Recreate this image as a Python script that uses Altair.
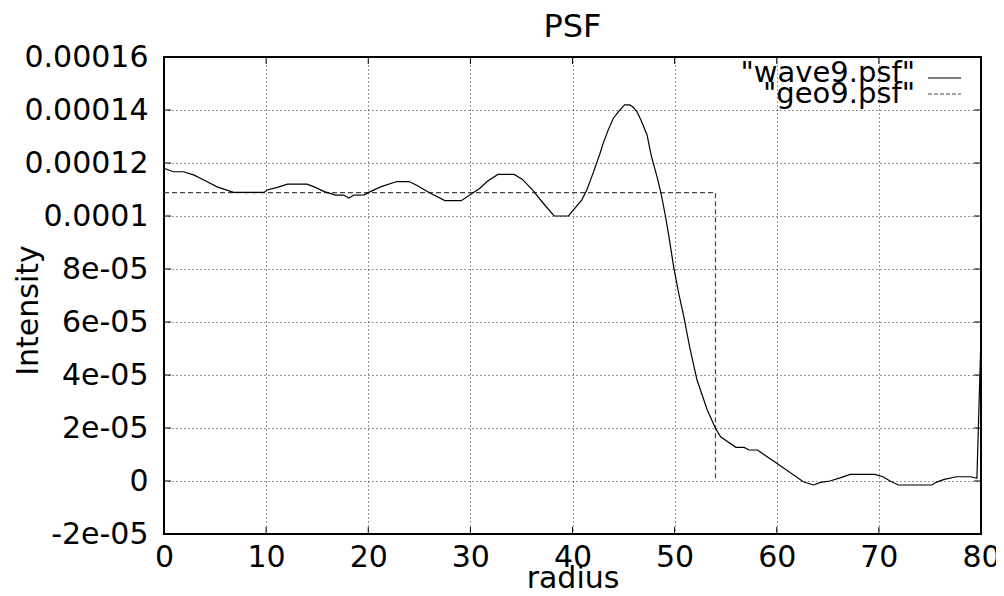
import altair as alt
import pandas as pd

# ---- data ----
wave_x = [0, 0.9, 1.9, 2.9, 3.9, 5.2, 6.8, 9.8, 10.1, 11.1, 12.1, 14.0, 14.7, 15.7,
          16.8, 17.6, 18.1, 18.6, 19.6, 20.2, 21.2, 22.8, 24.0, 24.7, 26.0, 27.5,
          29.1, 30.9, 31.7, 32.7, 34.3, 35.1, 36.1, 37.1, 38.2, 39.6, 40.9, 41.4,
          42.0, 42.7, 43.0, 43.5, 44.0, 44.5, 45.1, 45.6, 45.9, 46.3, 46.7, 47.3,
          47.7, 48.3, 48.7, 49.1, 49.5, 49.9, 50.4, 50.9, 51.5, 52.2, 53.2, 54.0,
          54.5, 56.0, 56.8, 57.3, 58.1, 60.0, 62.6, 63.6, 64.3, 65.2, 66.2, 67.2,
          69.6, 70.4, 71.1, 71.9, 75.2, 75.6, 76.4, 77.6, 79.0, 79.6, 80.0]
wave_y = [11.8e-5, 11.67e-5, 11.67e-5, 11.55e-5, 11.36e-5, 11.1e-5, 10.89e-5, 10.89e-5,
          10.98e-5, 11.08e-5, 11.2e-5, 11.2e-5, 11.1e-5, 10.92e-5, 10.79e-5, 10.79e-5,
          10.68e-5, 10.79e-5, 10.8e-5, 10.92e-5, 11.1e-5, 11.3e-5, 11.3e-5, 11.17e-5,
          10.88e-5, 10.58e-5, 10.58e-5, 11.04e-5, 11.32e-5, 11.57e-5, 11.57e-5, 11.38e-5,
          10.98e-5, 10.5e-5, 10.0e-5, 10.0e-5, 10.6e-5, 10.98e-5, 11.6e-5, 12.37e-5,
          12.74e-5, 13.25e-5, 13.69e-5, 13.94e-5, 14.19e-5, 14.19e-5, 14.12e-5, 13.94e-5,
          13.62e-5, 13.06e-5, 12.3e-5, 11.45e-5, 10.8e-5, 10.0e-5, 9.09e-5, 8.09e-5,
          7.08e-5, 6.2e-5, 5.0e-5, 3.8e-5, 2.68e-5, 1.99e-5, 1.67e-5, 1.27e-5, 1.27e-5,
          1.17e-5, 1.17e-5, 0.67e-5, -0.03e-5, -0.15e-5, -0.05e-5, 0.0, 0.12e-5, 0.25e-5,
          0.25e-5, 0.16e-5, 0.0, -0.15e-5, -0.15e-5, -0.05e-5, 0.06e-5, 0.16e-5, 0.16e-5,
          0.1e-5, 5.45e-5]

geo_x = [0, 54, 54]
geo_y = [1.088e-4, 1.088e-4, 0.0]

x_ticks = [0, 10, 20, 30, 40, 50, 60, 70, 80]
y_ticks = [-2e-5, 0.0, 2e-5, 4e-5, 6e-5, 8e-5, 1e-4, 1.2e-4, 1.4e-4, 1.6e-4]
y_tick_labels = ["-2e-05", "0", "2e-05", "4e-05", "6e-05", "8e-05",
                 "0.0001", "0.00012", "0.00014", "0.00016"]
series_labels = ['"wave9.psf"', '"geo9.psf"']
chart_title = "PSF"
x_title = "radius"
y_title = "Intensity"

FONT = "DejaVu Sans"

wave_df = pd.DataFrame({"x": wave_x, "y": wave_y})
geo_df = pd.DataFrame({"x": geo_x, "y": geo_y})

xs = alt.Scale(domain=[x_ticks[0], x_ticks[-1]], nice=False, zero=False)
ys = alt.Scale(domain=[y_ticks[0], y_ticks[-1]], nice=False, zero=False)

label_expr = "[" + ",".join("'%s'" % s for s in y_tick_labels) + "][round(datum.value/0.00002)+1]"

x_axis = alt.Axis(values=x_ticks, title=x_title, grid=True, ticks=False, tickSize=0,
                  labelPadding=8, labelFlush=False, labelFontSize=30, labelFont=FONT,
                  labelColor="black", titleFontSize=30, titleFont=FONT, titleColor="black",
                  titleFontWeight="normal", titleBaseline="alphabetic", titleY=53,
                  domain=False, gridDash=[1, 3], gridColor="#000", gridOpacity=0.8)
y_axis = alt.Axis(values=y_ticks, title=y_title, grid=True, ticks=False, tickSize=0,
                  labelPadding=16, labelFontSize=30, labelFont=FONT, labelColor="black",
                  labelExpr=label_expr, titleFontSize=30, titleFont=FONT,
                  titleColor="black", titleFontWeight="normal", titleBaseline="alphabetic",
                  titleX=-127, titleY=253, titleAngle=270, titleAlign="center",
                  domain=False, gridDash=[1, 3], gridColor="#000", gridOpacity=0.8)

wave = alt.Chart(wave_df).mark_line(color="black", strokeWidth=1.2).encode(
    x=alt.X("x:Q", scale=xs, axis=x_axis),
    y=alt.Y("y:Q", scale=ys, axis=y_axis),
    order="x:Q",
)
geo = alt.Chart(geo_df).mark_line(color="#444", strokeWidth=1.2, strokeDash=[5, 3]).encode(
    x=alt.X("x:Q", scale=xs),
    y=alt.Y("y:Q", scale=ys),
)

# inward ticks on all four sides (gnuplot style)
tl = pd.DataFrame({"y": y_ticks})
tx = pd.DataFrame({"x": x_ticks})
tick_l = alt.Chart(tl).mark_rule(color="black", strokeWidth=1).encode(
    y=alt.Y("y:Q", scale=ys), x=alt.value(0), x2=alt.value(7))
tick_r = alt.Chart(tl).mark_rule(color="black", strokeWidth=1).encode(
    y=alt.Y("y:Q", scale=ys), x=alt.value(810), x2=alt.value(817))
tick_b = alt.Chart(tx).mark_rule(color="black", strokeWidth=1).encode(
    x=alt.X("x:Q", scale=xs), y=alt.value(470), y2=alt.value(477))
tick_t = alt.Chart(tx).mark_rule(color="black", strokeWidth=1).encode(
    x=alt.X("x:Q", scale=xs), y=alt.value(0), y2=alt.value(7))

one = pd.DataFrame({"a": [0]})
title = alt.Chart(one).mark_text(font=FONT, fontSize=32, color="black",
                                 align="center", baseline="alphabetic").encode(
    x=alt.value(408.5), y=alt.value(-20), text=alt.value(chart_title))

leg_t1 = alt.Chart(one).mark_text(font=FONT, fontSize=29, color="black",
                                  align="right", baseline="alphabetic").encode(
    x=alt.value(751), y=alt.value(25), text=alt.value(series_labels[0]))
leg_t2 = alt.Chart(one).mark_text(font=FONT, fontSize=29, color="black",
                                  align="right", baseline="alphabetic").encode(
    x=alt.value(751), y=alt.value(46), text=alt.value(series_labels[1]))
leg_l1 = alt.Chart(one).mark_rule(color="black", strokeWidth=1.2).encode(
    x=alt.value(764), x2=alt.value(797), y=alt.value(21))
leg_l2 = alt.Chart(one).mark_rule(color="#444", strokeWidth=1.2, strokeDash=[4, 2]).encode(
    x=alt.value(764), x2=alt.value(797), y=alt.value(37))

chart = alt.layer(
    tick_l, tick_r, tick_b, tick_t, geo, wave, title, leg_t1, leg_t2, leg_l1, leg_l2
).properties(
    width=817, height=477,
    autosize=alt.AutoSizeParams(type="none"),
    padding={"left": 156, "top": 49, "right": 15, "bottom": 54},
    background="white",
).configure_view(stroke="black", strokeWidth=2).configure_axis(grid=True)

chart.save("out.html", embed_options={"renderer": "svg", "actions": False})
